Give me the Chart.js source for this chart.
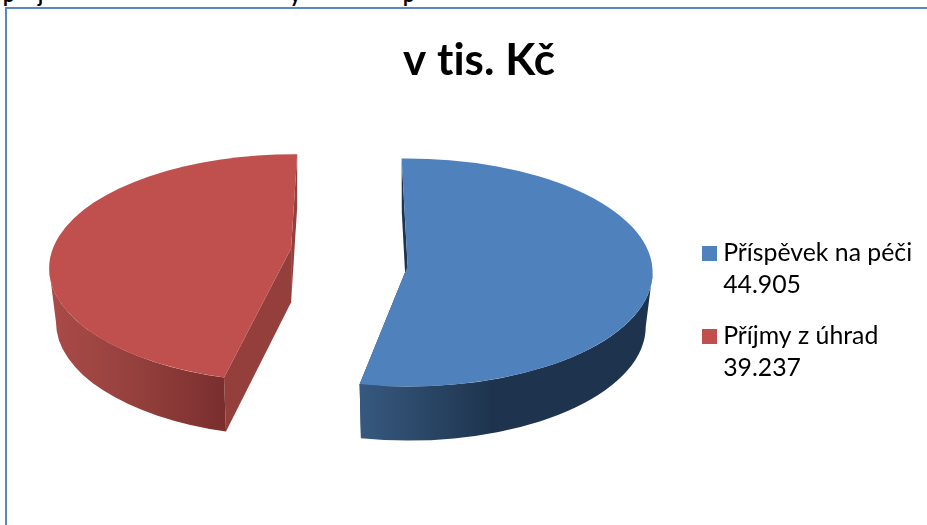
<!DOCTYPE html>
<html lang="cs">
<head>
<meta charset="utf-8">
<title>v tis. Kč</title>
<script src="https://cdn.jsdelivr.net/npm/chart.js@4/dist/chart.umd.min.js"></script>
<style>
  html, body { margin: 0; width: 927px; height: 525px; overflow: hidden; background: #fff; }
  #frame { position: absolute; left: 5px; top: 7px; width: 1000px; height: 1000px; border: 2px solid #5a87bf; }
  #chart { position: absolute; left: 0; top: 0; }
  .cut { position: absolute; top: -16px; font: bold 20px Lato, sans-serif; line-height: 20px; color: #000; }
</style>
</head>
<body>
<span class="cut" style="left:3px">p</span>
<span class="cut" style="left:38px">j</span>
<span class="cut" style="left:290px">y</span>
<span class="cut" style="left:403px">p</span>
<div id="frame"></div>
<canvas id="chart" width="927" height="525"></canvas>
<script>
/* ===== DATA ===== */
const categories  = ['Příspěvek na péči', 'Příjmy z úhrad'];
const values      = [44905, 39237];
const valueLabels = ['44.905', '39.237'];
const chartTitle  = 'v tis. Kč';

/* ===== STYLE ===== */
const topColors   = ['#4f81bd', '#c0504d'];
const wallStops   = [['#37597f', '#1e344e', '#1e344e'], ['#aa4b48', '#94403d', '#7a2e2e']];
const faceColors  = ['#1d3450', '#953f3c'];
const stretchX    = 2.149;
const depth       = 54;
const baseShrink  = 0.972;
// the original is drawn in perspective, so each slice sits a little differently
const apexShift   = [[0, -6.5], [-3, -20]];
const turnDeg     = [0, 5.9];
const spanFactor  = [1.003, 0.9775];

function swatch(color) {
  const c = document.createElement('canvas');
  c.width = 15; c.height = 15;
  const g = c.getContext('2d');
  g.fillStyle = color;
  g.fillRect(0, 0, 15, 15);
  return c;
}

function sliceShape(arc, i) {
  const off = arc.options.offset;
  const mid = (arc.startAngle + arc.endAngle) / 2;
  const cx  = arc.x + off * Math.cos(mid) * stretchX;
  const cy  = arc.y + off * Math.sin(mid);
  const a0  = arc.startAngle + turnDeg[i] * Math.PI / 180;
  const a1  = a0 + (arc.endAngle - arc.startAngle) * spanFactor[i];
  const rx  = arc.outerRadius * stretchX;
  const ry  = arc.outerRadius;
  return { cx, cy, rx, ry, a0, a1, ax: cx + apexShift[i][0], ay: cy + apexShift[i][1] };
}

function rimPoint(s, a) {
  return [s.cx + s.rx * Math.cos(a), s.cy + s.ry * Math.sin(a)];
}

function basePoint(s, a) {
  return [s.cx + s.rx * baseShrink * Math.cos(a), s.cy + depth + s.ry * Math.sin(a)];
}

function drawCutFace(ctx, s, a, color) {
  const top = rimPoint(s, a), low = basePoint(s, a);
  ctx.beginPath();
  ctx.moveTo(top[0], top[1]);
  ctx.lineTo(low[0], low[1]);
  ctx.lineTo(s.ax, s.ay + depth);
  ctx.lineTo(s.ax, s.ay);
  ctx.closePath();
  ctx.fillStyle = color;
  ctx.fill();
}

function drawWall(ctx, s, i) {
  // only the part of the rim facing the viewer, canvas angles 0..PI
  const from = Math.max(s.a0, 0);
  const to   = Math.min(s.a1, Math.PI);
  if (to <= from) return;
  const g = ctx.createLinearGradient(s.cx + s.rx * Math.cos(to), 0, s.cx + s.rx * Math.cos(from), 0);
  const stops = wallStops[i];
  g.addColorStop(0, stops[0]);
  g.addColorStop(i === 0 ? 0.45 : 0.5, stops[1]);
  g.addColorStop(1, stops[2]);
  ctx.beginPath();
  ctx.ellipse(s.cx, s.cy, s.rx, s.ry, 0, from, to);
  ctx.ellipse(s.cx, s.cy + depth, s.rx * baseShrink, s.ry, 0, to, from, true);
  ctx.closePath();
  ctx.fillStyle = g;
  ctx.fill();
}

function drawTop(ctx, s, i) {
  ctx.beginPath();
  ctx.moveTo(s.ax, s.ay);
  ctx.ellipse(s.cx, s.cy, s.rx, s.ry, 0, s.a0, s.a1);
  ctx.closePath();
  ctx.fillStyle = topColors[i];
  ctx.fill();
}

const pie3d = {
  id: 'pie3d',
  afterLayout(chart) {
    chart.titleBlock.left  += 12;
    chart.titleBlock.right += 12;
    chart.legend.left  -= 5;
    chart.legend.right -= 5;
    chart.legend.bottom = 407;
  },
  beforeDraw(chart) {
    // a tiny spacing keeps Lato from joining "ti" into a ligature
    chart.ctx.letterSpacing = '0.01px';
  },
  beforeDatasetsDraw(chart) {
    const ctx = chart.ctx;
    const arcs = chart.getDatasetMeta(0).data;
    ctx.save();
    arcs.forEach((arc, i) => {
      const s = sliceShape(arc, i);
      drawCutFace(ctx, s, s.a0, faceColors[i]);
      drawCutFace(ctx, s, s.a1, faceColors[i]);
      drawWall(ctx, s, i);
      drawTop(ctx, s, i);
    });
    ctx.restore();
    return false;
  }
};

new Chart(document.getElementById('chart'), {
  type: 'pie',
  data: {
    labels: categories,
    datasets: [{ data: values, backgroundColor: topColors, borderWidth: 0, offset: 26.5 }]
  },
  plugins: [pie3d],
  options: {
    responsive: false,
    animation: false,
    radius: 114,
    rotation: -1.4,
    layout: { padding: { bottom: 84, left: 7 } },
    plugins: {
      tooltip: { enabled: false },
      title: {
        display: true,
        text: chartTitle,
        color: '#000',
        font: { family: 'Lato', size: 44, weight: 'bold' },
        padding: { top: 34, bottom: 13 }
      },
      legend: {
        position: 'right',
        align: 'end',
        labels: {
          usePointStyle: true,
          pointStyleWidth: 2,
          padding: 19,
          color: '#000',
          font: { family: 'Lato', size: 24.8, lineHeight: 32 / 24.8 },
          generateLabels: () => categories.map((name, i) => ({
            text: [name, valueLabels[i]],
            pointStyle: swatch(topColors[i]),
            fillStyle: topColors[i],
            strokeStyle: topColors[i],
            lineWidth: 0,
            fontColor: '#000',
            index: i
          }))
        }
      }
    }
  }
});
</script>
</body>
</html>
